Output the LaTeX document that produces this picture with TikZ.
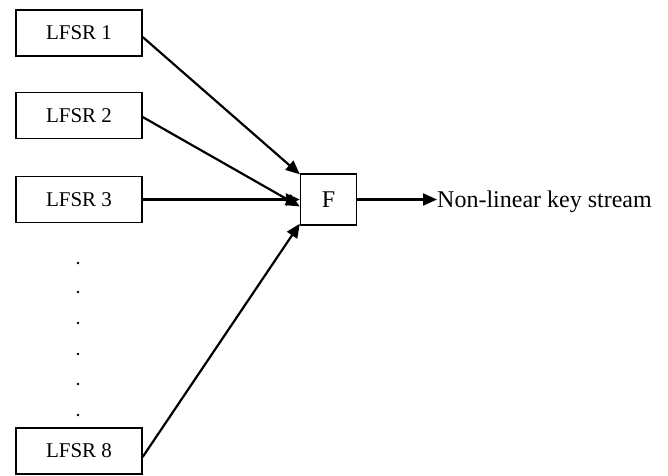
\documentclass[tikz,border=0pt]{standalone}
\usepackage{fontspec}
\setmainfont{Liberation Serif}
\usetikzlibrary{arrows.meta}
\begin{document}
\begin{tikzpicture}[x=1pt,y=-1pt,
  lfsrbox/.style={draw,line width=1.3pt,minimum width=126pt,minimum height=46pt,inner sep=0pt,font=\fontsize{21}{24}\selectfont},
  fbox/.style={draw,line width=1.3pt,minimum width=56pt,minimum height=51pt,inner sep=0pt,font=\fontsize{24}{28}\selectfont},
  conn/.style={line width=2.2pt,-{Triangle[length=14pt,width=12pt]}},
  dotmark/.style={circle,fill,inner sep=0pt,minimum size=2.6pt}]
\useasboundingbox (0,0) rectangle (668,475);
\node[lfsrbox] (l1) at (79,33) {LFSR 1};
\node[lfsrbox] (l2) at (79,115.5) {LFSR 2};
\node[lfsrbox] (l3) at (79,199.5) {LFSR 3};
\node[lfsrbox] (l8) at (79,451) {LFSR 8};
\node[fbox] (f) at (328.5,199.5) {F};
\node[anchor=west,inner sep=0pt,font=\fontsize{24}{28}\selectfont] (out) at (437,201.5) {Non-linear key stream};
\foreach \y/\n in {263/d1,292/d2,323/d3,354/d4,384/d5,415/d6}
  \node[dotmark] (\n) at (78,\y) {};
\draw[conn] ([yshift=-4pt]l1.east) -- ([yshift=-1pt]f.north west);
\draw[conn] ([yshift=-1.5pt]l2.east) -- ([yshift=-7pt]f.west);
\draw[conn] (l3.east) -- (f.west);
\draw[conn] ([yshift=-6pt]l8.east) -- ([yshift=2pt]f.south west);
\draw[conn] (f.east) -- (f.east -| out.west);
\end{tikzpicture}
\end{document}
